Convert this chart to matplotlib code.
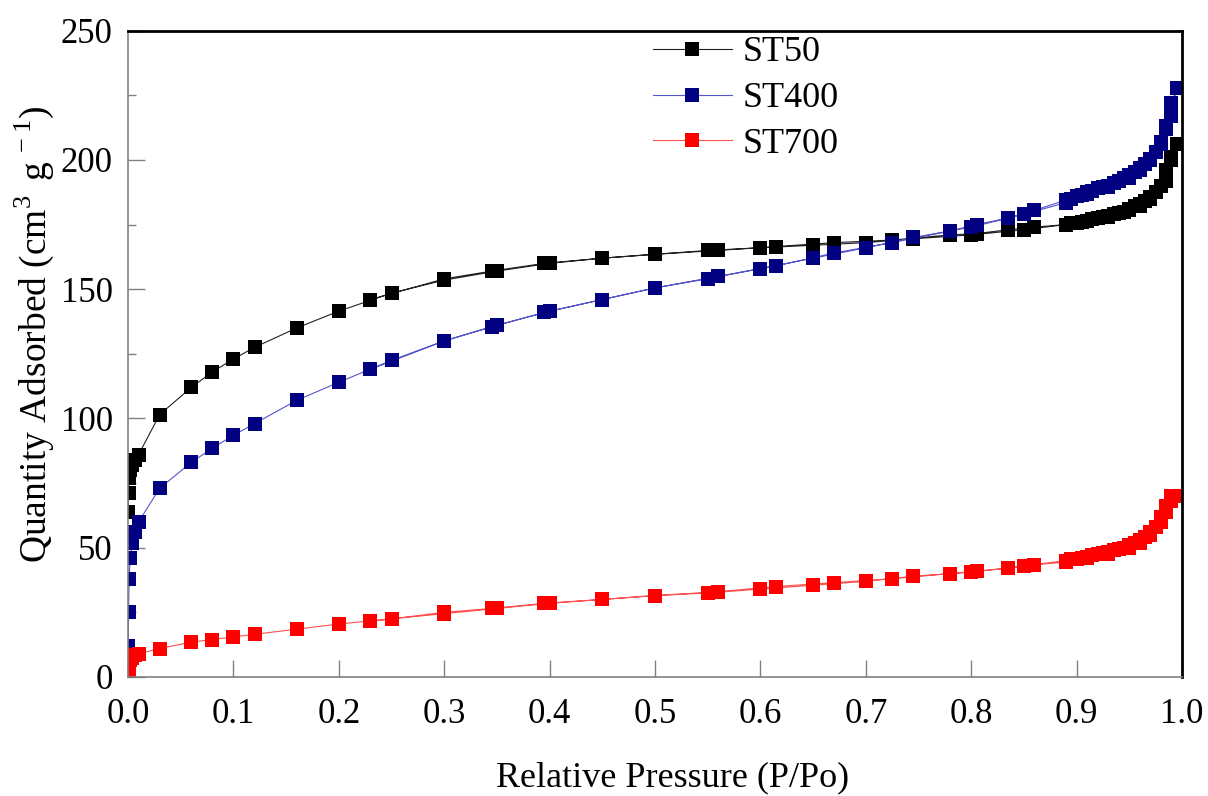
import matplotlib
matplotlib.use('Agg')
import matplotlib.pyplot as plt
from matplotlib.ticker import MultipleLocator

plt.rcParams['font.family'] = 'Liberation Serif'
plt.rcParams['mathtext.fontset'] = 'custom'
plt.rcParams['mathtext.rm'] = 'Liberation Serif'

# relative pressure points, adsorption then desorption branch
p_ads = [0.0002, 0.0005, 0.001, 0.002, 0.004, 0.007, 0.01,
         0.03, 0.06, 0.08, 0.10, 0.12, 0.16, 0.20, 0.25, 0.30, 0.35,
         0.40, 0.45, 0.50, 0.55, 0.60, 0.65, 0.70, 0.745, 0.80, 0.85,
         0.89, 0.91, 0.93, 0.95, 0.96, 0.97, 0.98, 0.985, 0.99, 0.995]
p_des = [0.99, 0.985, 0.98, 0.975, 0.97, 0.965, 0.96, 0.955, 0.95, 0.945,
         0.94, 0.935, 0.93, 0.925, 0.92, 0.915, 0.91, 0.905, 0.90, 0.895,
         0.89, 0.86, 0.835, 0.805, 0.78, 0.725, 0.67, 0.615, 0.56, 0.50,
         0.45, 0.395, 0.345, 0.30, 0.23]

st50_ads = [64, 71, 77, 80, 82, 84, 86,
            101.5, 112, 118, 123, 127.5, 135, 141.5, 148.5, 153.5, 157,
            160, 162, 163.5, 165, 166, 167, 168, 169.5, 171, 173,
            175, 176.5, 178, 180.5, 182, 185, 190, 196, 201, 206]
st50_des = [200, 192, 190, 187.5, 185.5, 184, 183, 182, 181, 180,
            179.5, 179, 178.5, 178, 177.5, 177, 176.5, 176, 175.5, 175.5,
            175, 174, 173, 171.5, 171, 169, 168, 166.5, 165, 163.5,
            162, 160, 157, 154, 146]

st400_ads = [12, 25, 38, 46, 52, 56, 60,
             73, 83, 88.5, 93.5, 98, 107, 114, 122.5, 130, 136,
             141.5, 146, 150.5, 154, 158, 162, 166, 170, 174, 179,
             183.5, 187, 189.5, 193, 196, 200, 206, 212, 217, 228]
st400_des = [222, 213, 207, 203, 200.5, 198.5, 197, 195.5, 194, 193,
             192, 191, 190, 189.5, 189, 188, 187.5, 186.5, 186, 185,
             184.5, 180.5, 177.5, 175, 172.5, 168, 164, 159, 155, 150.5,
             146, 141, 135.5, 130, 119]

st700_ads = [1, 3, 5, 6.5, 7.5, 8.5, 9,
             11, 13.5, 14.5, 15.5, 16.5, 18.5, 20.5, 22.5, 24.5, 26.5,
             28.5, 30, 31.5, 32.5, 34, 35.5, 37, 39, 40.5, 43,
             44.5, 46, 47.5, 50, 52, 55, 60, 64, 68, 70]
st700_des = [70, 66, 62, 58, 56, 54, 53, 52, 51, 50,
             49.5, 49, 48.5, 48, 47.5, 47, 46.5, 46, 45.5, 45.5,
             45, 43.5, 42, 41, 40, 38, 36.5, 35, 33, 31.5,
             30, 28.5, 26.5, 25, 21.5]

fig = plt.figure(figsize=(12.08, 7.96), dpi=100)
ax = fig.add_axes([0.106, 0.1495, 0.8725, 0.812])

p = p_ads + p_des
ax.plot(p, st50_ads + st50_des, color='#222222', lw=0.8, marker='s', ms=10.5,
        mfc='black', mec='black', mew=0, label='ST50')
ax.plot(p, st400_ads + st400_des, color='#5555cc', lw=0.8, marker='s', ms=10.5,
        mfc='#000080', mec='#000080', mew=0, label='ST400')
ax.plot(p, st700_ads + st700_des, color='#ff5050', lw=0.8, marker='s', ms=10.5,
        mfc='red', mec='red', mew=0, label='ST700')

ax.set_xlim(0, 1.0)
ax.set_ylim(0, 250)
ax.xaxis.set_major_locator(MultipleLocator(0.1))
ax.yaxis.set_major_locator(MultipleLocator(50))
ax.yaxis.set_minor_locator(MultipleLocator(25))
ax.tick_params(direction='in', which='major', length=12, width=1, color='#808080',
               labelsize=25, pad=11)
ax.tick_params(direction='in', which='minor', length=6, width=1, color='#808080')
ax.tick_params(axis='x', pad=15)

for s in ['left', 'bottom']:
    ax.spines[s].set_color('#808080')
    ax.spines[s].set_linewidth(1.2)
for s in ['top', 'right']:
    ax.spines[s].set_color('black')
    ax.spines[s].set_linewidth(2)

ax.set_xlabel('Relative Pressure (P/Po)', fontsize=26)
ax.xaxis.set_label_coords(0.517, -0.13)
ax.set_ylabel(r'Quantity Adsorbed (cm$^{3\,}$ g$^{\,-1}$)', fontsize=27)
ax.yaxis.set_label_coords(-0.068, 0.53)

ax.legend(loc='upper left', bbox_to_anchor=(0.467, 1.042), frameon=False,
          fontsize=26, handlelength=2.2, handletextpad=0.3, labelspacing=0.35)

fig.savefig('out.png', dpi=100)
